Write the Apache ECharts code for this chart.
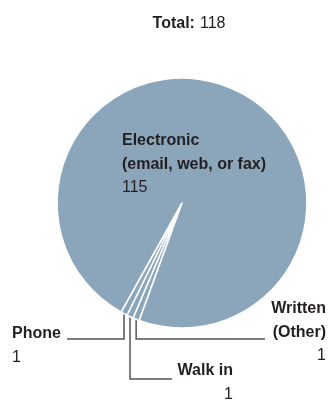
<!DOCTYPE html>
<html>
<head>
<meta charset="utf-8">
<script src="https://cdn.jsdelivr.net/npm/echarts@6/dist/echarts.min.js"></script>
<style>
  html, body { margin: 0; padding: 0; background: #fff; }
  #chart { width: 328px; height: 402px; }
</style>
</head>
<body>
<div id="chart"></div>
<script>
// data
const names = ['Written\n(Other)', 'Walk in', 'Phone', 'Electronic\n(email, web, or fax)']
const values = [1, 1, 1, 115]
const total = values.reduce((a, b) => a + b, 0)

// where each label sits (pixels) and where its leader line turns
const spots = [
  { x: 326, y: 297, align: 'right', lineY: 339, endX: 265 },
  { x: 233, y: 359, align: 'right', lineY: 379, endX: 172 },
  { x: 12, y: 322, align: 'left', lineY: 339, endX: 67 },
  { x: 122, y: 129, align: 'left' }
]

const chart = echarts.init(document.getElementById('chart'))

const font = '"Liberation Sans", Arial, sans-serif'
const ink = '#231f20'

chart.setOption({
  animation: false,
  title: {
    text: '{b|Total:} {r|' + total + '}',
    left: 184,
    top: 10,
    textAlign: 'center',
    textStyle: {
      fontWeight: 'normal',
      rich: {
        b: { fontFamily: font, fontSize: 16, fontWeight: 'bold', color: ink },
        r: { fontFamily: font, fontSize: 16, fontWeight: 'normal', color: ink }
      }
    }
  },
  series: [
    {
      type: 'pie',
      center: [182, 203],
      radius: 125,
      startAngle: 250,
      clockwise: true,
      avoidLabelOverlap: false,
      silent: true,
      data: names.map((n, i) => ({
        name: n,
        value: values[i],
        labelLine: { show: i < 3 }
      })),
      itemStyle: {
        color: '#8ba6bb',
        borderColor: '#fff',
        borderWidth: 1.6
      },
      label: {
        show: true,
        position: 'outside',
        formatter: (p) => '{n|' + p.name + '}\n{v|' + p.value + '}',
        rich: {
          n: { fontFamily: font, fontSize: 16, fontWeight: 'bold', color: ink, lineHeight: 23.5 },
          v: { fontFamily: font, fontSize: 16, fontWeight: 'normal', color: ink, lineHeight: 23.5 }
        }
      },
      labelLine: {
        show: true,
        length: 10,
        length2: 10,
        lineStyle: { color: '#555', width: 1.5 }
      },
      labelLayout: (params) => {
        const s = spots[params.dataIndex]
        const out = { x: s.x, y: s.y, align: s.align, verticalAlign: 'top' }
        if (s.lineY && params.labelLinePoints) {
          const p0 = params.labelLinePoints[0]
          out.labelLinePoints = [[p0[0], p0[1]], [p0[0], s.lineY], [s.endX, s.lineY]]
        }
        return out
      }
    }
  ]
})

window.addEventListener('resize', () => chart.resize())
</script>
</body>
</html>
